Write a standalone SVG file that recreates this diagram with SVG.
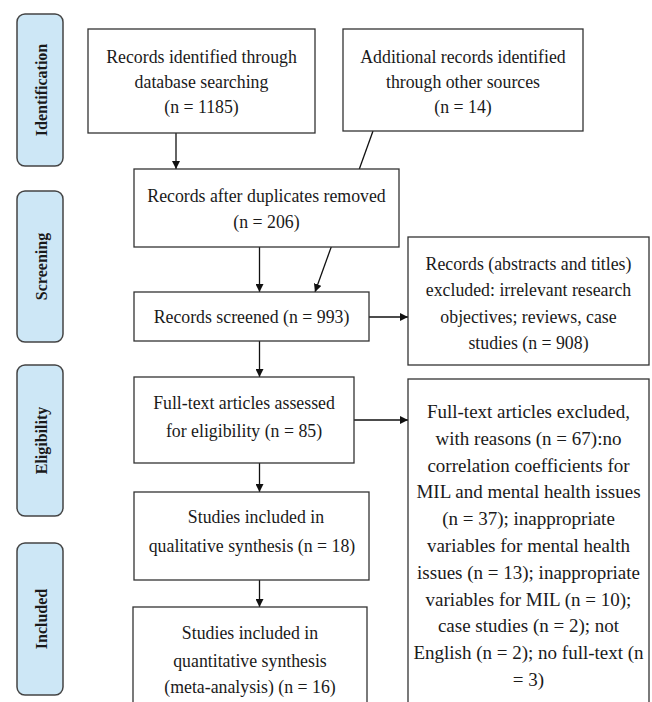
<svg xmlns="http://www.w3.org/2000/svg" width="652" height="702" viewBox="0 0 652 702">
<style>
.bg{fill:#ffffff}
.box{fill:#ffffff;stroke:#333333;stroke-width:1.3}
.stage{fill:#cde7f6;stroke:#444444;stroke-width:1.5}
.t{font-family:"Liberation Serif","Times New Roman",serif;font-size:17.8px;fill:#1a1a1a;text-anchor:middle}
.t19{font-size:19px}
.st{font-family:"Liberation Serif","Times New Roman",serif;font-size:16px;font-weight:bold;fill:#1a1a1a;text-anchor:middle}
.c{stroke:#111111;stroke-width:1.3;fill:none}
</style>
<defs>
<marker id="ah" viewBox="0 0 10 10" refX="10" refY="5" markerWidth="8" markerHeight="8" markerUnits="userSpaceOnUse" orient="auto">
<path d="M0,0 L10,5 L0,10 Z" fill="#111111"/>
</marker>
</defs>
<rect class="bg" x="0" y="0" width="652" height="702"/>

<g id="stage-identification">
<rect class="stage" x="17" y="14" width="46" height="152" rx="8"/>
<text class="st" transform="translate(46.5,90) rotate(-90)">Identification</text>
</g>
<g id="stage-screening">
<rect class="stage" x="17" y="191" width="46" height="151" rx="8"/>
<text class="st" transform="translate(46.5,266.5) rotate(-90)">Screening</text>
</g>
<g id="stage-eligibility">
<rect class="stage" x="17" y="365" width="46" height="151" rx="8"/>
<text class="st" transform="translate(46.5,440.5) rotate(-90)">Eligibility</text>
</g>
<g id="stage-included">
<rect class="stage" x="17" y="543" width="46" height="152" rx="8"/>
<text class="st" transform="translate(46.5,619) rotate(-90)">Included</text>
</g>

<g id="connectors">
<line class="c" x1="176" y1="133" x2="176" y2="169" marker-end="url(#ah)"/>
<line class="c" x1="373" y1="131" x2="315" y2="292" marker-end="url(#ah)"/>
<line class="c" x1="259.5" y1="247" x2="259.5" y2="292" marker-end="url(#ah)"/>
<line class="c" x1="369" y1="317" x2="408" y2="317" marker-end="url(#ah)"/>
<line class="c" x1="259.5" y1="341" x2="259.5" y2="377" marker-end="url(#ah)"/>
<line class="c" x1="354" y1="420" x2="408" y2="420" marker-end="url(#ah)"/>
<line class="c" x1="259.5" y1="463" x2="259.5" y2="492" marker-end="url(#ah)"/>
<line class="c" x1="259.5" y1="580" x2="259.5" y2="607" marker-end="url(#ah)"/>
</g>

<g id="n1">
<rect class="box" x="88" y="29" width="227" height="104"/>
<text class="t" x="201.5" y="63">Records identified through</text>
<text class="t" x="201.5" y="88">database searching</text>
<text class="t" x="201.5" y="113">(n = 1185)</text>
</g>
<g id="n2">
<rect class="box" x="343" y="29" width="240" height="102"/>
<text class="t" x="463" y="62.5">Additional records identified</text>
<text class="t" x="463" y="88">through other sources</text>
<text class="t" x="463" y="113">(n = 14)</text>
</g>
<g id="n3">
<rect class="box" x="134" y="169" width="265" height="78"/>
<text class="t" x="266.5" y="202">Records after duplicates removed</text>
<text class="t" x="266.5" y="228">(n = 206)</text>
</g>
<g id="n4">
<rect class="box" x="134" y="292" width="235" height="49"/>
<text class="t" x="251.5" y="323">Records screened (n = 993)</text>
</g>
<g id="n5">
<rect class="box" x="408" y="237" width="241" height="128"/>
<text class="t" x="528.5" y="270">Records (abstracts and titles)</text>
<text class="t" x="528.5" y="296.3">excluded: irrelevant research</text>
<text class="t" x="528.5" y="322.6">objectives; reviews, case</text>
<text class="t" x="528.5" y="349">studies (n = 908)</text>
</g>
<g id="n6">
<rect class="box" x="134" y="377" width="220" height="86"/>
<text class="t" x="244" y="409">Full-text articles assessed</text>
<text class="t" x="244" y="436.5">for eligibility (n = 85)</text>
</g>
<g id="n7">
<rect class="box" x="408" y="379" width="241" height="330"/>
<text class="t t19" x="528.5" y="418">Full-text articles excluded,</text>
<text class="t t19" x="528.5" y="444.8">with reasons (n = 67):no</text>
<text class="t t19" x="528.5" y="471.6">correlation coefficients for</text>
<text class="t t19" x="528.5" y="498.4">MIL and mental health issues</text>
<text class="t t19" x="528.5" y="525.2">(n = 37); inappropriate</text>
<text class="t t19" x="528.5" y="552">variables for mental health</text>
<text class="t t19" x="528.5" y="578.8">issues (n = 13); inappropriate</text>
<text class="t t19" x="528.5" y="605.6">variables for MIL (n = 10);</text>
<text class="t t19" x="528.5" y="632.4">case studies (n = 2); not</text>
<text class="t t19" x="528.5" y="659.2">English (n = 2); no full-text (n</text>
<text class="t t19" x="528.5" y="686">= 3)</text>
</g>
<g id="n8">
<rect class="box" x="134" y="492" width="235" height="88"/>
<text class="t" x="256" y="523">Studies included in</text>
<text class="t" x="252" y="551.5">qualitative synthesis (n = 18)</text>
</g>
<g id="n9">
<rect class="box" x="133" y="607" width="234" height="102"/>
<text class="t" x="250" y="639">Studies included in</text>
<text class="t" x="250" y="666.5">quantitative synthesis</text>
<text class="t" x="250" y="693">(meta-analysis) (n = 16)</text>
</g>
</svg>
